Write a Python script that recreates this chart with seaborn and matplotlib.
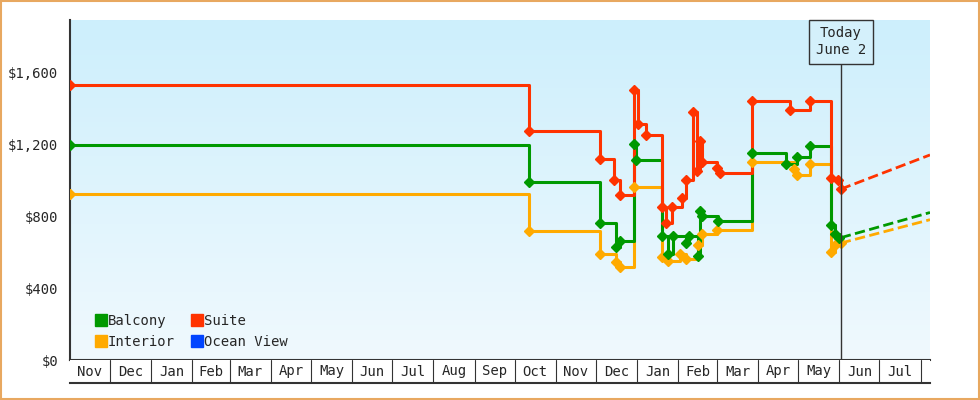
import numpy as np
import pandas as pd
import matplotlib
matplotlib.use("Agg")
import matplotlib.pyplot as plt
import matplotlib.dates as mdates
import seaborn as sns

sns.set_style("white")
plt.rcParams['font.family'] = ['DejaVu Sans Mono']

# Price history (step changes)
suite_dates = ["2022-11-01", "2023-10-12", "2023-12-04", "2023-12-15", "2023-12-19", "2023-12-30",
               "2024-01-02", "2024-01-08", "2024-01-20", "2024-01-23", "2024-01-27", "2024-02-04",
               "2024-02-07", "2024-02-12", "2024-02-15", "2024-02-17", "2024-02-19", "2024-03-01",
               "2024-03-03", "2024-03-27", "2024-04-25", "2024-05-10", "2024-05-26", "2024-05-31",
               "2024-06-02"]
suite_vals = [1530, 1275, 1120, 1000, 915, 1500, 1310, 1250, 850, 760, 850, 900,
              1000, 1380, 1050, 1220, 1100, 1070, 1040, 1440, 1390, 1440, 1010, 1000, 950]

balcony_dates = ["2022-11-01", "2023-10-12", "2023-12-04", "2023-12-16", "2023-12-19", "2023-12-30",
                 "2023-12-31", "2024-01-20", "2024-01-24", "2024-01-28", "2024-02-07", "2024-02-09",
                 "2024-02-16", "2024-02-17", "2024-02-19", "2024-03-02", "2024-03-27", "2024-04-22",
                 "2024-04-30", "2024-05-10", "2024-05-26", "2024-05-29", "2024-06-01"]
balcony_vals = [1195, 990, 760, 630, 660, 1200, 1110, 690, 590, 690, 650, 690,
                580, 830, 800, 770, 1150, 1090, 1130, 1190, 750, 700, 680]

interior_dates = ["2022-11-01", "2023-10-12", "2023-12-04", "2023-12-16", "2023-12-19", "2023-12-30",
                  "2024-01-20", "2024-01-24", "2024-02-02", "2024-02-07", "2024-02-16", "2024-02-19",
                  "2024-03-01", "2024-03-27", "2024-04-28", "2024-04-30", "2024-05-10", "2024-05-26",
                  "2024-05-29", "2024-06-02"]
interior_vals = [920, 715, 590, 545, 515, 960, 570, 550, 590, 560, 640, 700,
                 720, 1100, 1060, 1030, 1090, 600, 640, 650]

# Forecast end values
forecast_end = "2024-08-08"
forecast_vals = {"Suite": 1140, "Balcony": 820, "Interior": 780}

colors = {"Balcony": "#009900", "Suite": "#ff3300", "Interior": "#ffaa00", "Ocean View": "#0044ff"}
today = pd.Timestamp("2024-06-02")
x0, x1 = pd.Timestamp("2022-11-01"), pd.Timestamp(forecast_end)

fig = plt.figure(figsize=(9.8, 4), dpi=100)
ax = fig.add_axes([70/980, 40/400, 860/980, 340/400])

# background gradient
grad = np.linspace(0, 1, 256).reshape(-1, 1)
cmap = matplotlib.colors.LinearSegmentedColormap.from_list("bg", ["#f0f9fe", "#cdeffc"])
ax.imshow(grad, extent=[mdates.date2num(x0), mdates.date2num(x1), 0, 1890],
          origin="lower", aspect="auto", cmap=cmap, zorder=0)

series = [("Interior", interior_dates, interior_vals),
          ("Balcony", balcony_dates, balcony_vals),
          ("Suite", suite_dates, suite_vals)]
for name, d, v in series:
    d = pd.to_datetime(d)
    ax.plot(list(d) + [today], v + [v[-1]], drawstyle="steps-post", color=colors[name], lw=2.2, zorder=3)
    ax.plot(d, v, "D", color=colors[name], ms=5, zorder=4)
    ax.plot([today, x1], [v[-1], forecast_vals[name]], "--", color=colors[name], lw=2, zorder=3)

ax.set_xlim(x0, x1)
ax.set_ylim(0, 1890)
ax.set_yticks([0, 400, 800, 1200, 1600])
ax.set_yticklabels(["$0", "$400", "$800", "$1,200", "$1,600"], fontsize=10)
ax.tick_params(axis="y", length=5, width=1.5, color="#333333")
ax.set_xticks([])
for s in ["top", "right"]:
    ax.spines[s].set_visible(False)
ax.spines["left"].set_color("#333333")
ax.spines["bottom"].set_color("#333333")
ax.spines["left"].set_linewidth(1.5)
ax.spines["bottom"].set_linewidth(1.5)

# today marker
ax.axvline(today, ymax=298/340, color="#333333", lw=1, zorder=5)
ax.text(today, 1770, "Today\nJune 2", ha="center", va="center", fontsize=10, zorder=6,
        bbox=dict(boxstyle="square,pad=0.5", fc="#d4f0fb", ec="#333333", lw=1))

# legend
handles = [plt.Line2D([], [], ls="", marker="s", ms=8, color=colors[n]) for n in
           ["Balcony", "Interior", "Suite", "Ocean View"]]
ax.legend(handles, ["Balcony", "Interior", "Suite", "Ocean View"], ncol=2, loc="lower left",
          bbox_to_anchor=(0.015, -0.005), frameon=False, handletextpad=0.1, columnspacing=1.2,
          handlelength=0.8, fontsize=10)

# month strip
sx = fig.add_axes([70/980, 17/400, 860/980, 23/400])
sx.set_xlim(x0, x1)
sx.set_ylim(0, 1)
months = pd.date_range("2022-11-01", "2024-08-01", freq="MS")
for m in months[1:]:
    sx.axvline(m, color="#333333", lw=0.8)
for a, b in zip(months[:-1], months[1:]):
    sx.text(a + (b - a) / 2, 0.5, a.strftime("%b"), ha="center", va="center", fontsize=10)
sx.set_xticks([])
sx.set_yticks([])
for s in ["top", "right", "left"]:
    sx.spines[s].set_visible(False)
sx.spines["bottom"].set_color("#333333")
sx.spines["bottom"].set_linewidth(1.5)

fig.patches.append(matplotlib.patches.Rectangle((0.001, 0.002), 0.998, 0.996, transform=fig.transFigure,
                                                fill=False, ec="#e8a860", lw=1.5))
fig.savefig("out.png", dpi=100)
